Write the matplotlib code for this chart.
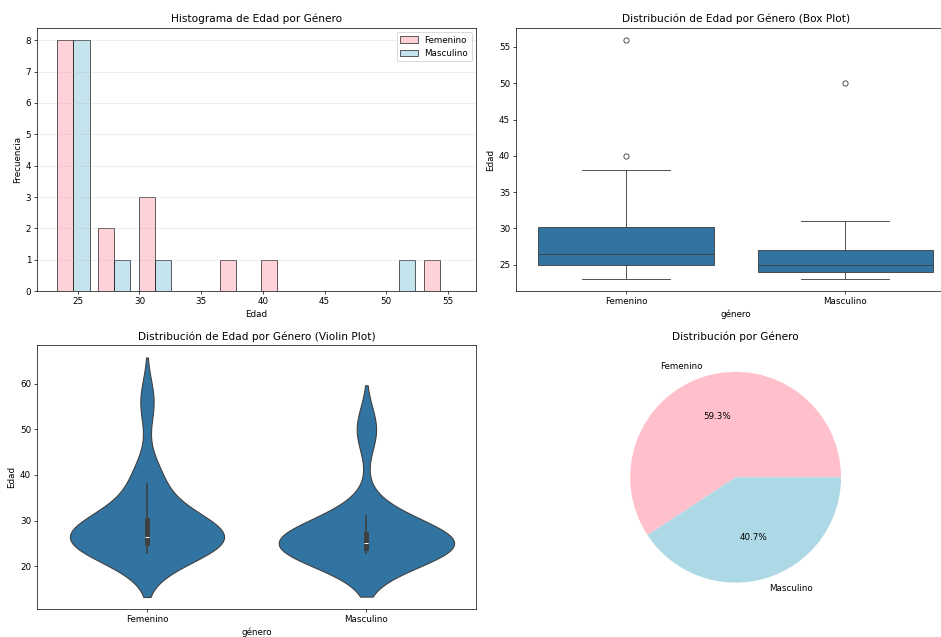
import matplotlib
matplotlib.use("Agg")
import matplotlib.pyplot as plt
import numpy as np
import pandas as pd
import seaborn as sns

# Ages per gender
edad_femenino = [23, 24, 25, 25, 25, 25, 26, 26, 27, 28, 30, 30, 31, 38, 40, 56]
edad_masculino = [23, 23, 24, 24, 25, 25, 25, 26, 28, 31, 50]
generos = ["Femenino", "Masculino"]
colores = ["pink", "lightblue"]

df = pd.DataFrame({
    "género": ["Femenino"] * len(edad_femenino) + ["Masculino"] * len(edad_masculino),
    "Edad": edad_femenino + edad_masculino,
})

DPI = 941 / 15
fig, axes = plt.subplots(2, 2, figsize=(15, 637 / DPI), dpi=DPI)
fig.subplots_adjust(left=0.0396, right=1.0149, top=0.9565, bottom=0.044,
                    wspace=0.0913, hspace=0.206)

# Histogram
ax = axes[0, 0]
ax.hist([edad_femenino, edad_masculino], bins=10, label=generos,
        color=colores, alpha=0.7, edgecolor="black")
ax.set_title("Histograma de Edad por Género")
ax.set_xlabel("Edad")
ax.set_ylabel("Frecuencia")
ax.legend()
ax.grid(axis="y", alpha=0.3)

# Box plot
ax = axes[0, 1]
sns.boxplot(x="género", y="Edad", data=df, ax=ax)
ax.set_title("Distribución de Edad por Género (Box Plot)")

# Violin plot
ax = axes[1, 0]
sns.violinplot(x="género", y="Edad", data=df, ax=ax)
ax.set_title("Distribución de Edad por Género (Violin Plot)")

# Pie chart
ax = axes[1, 1]
conteos = df["género"].value_counts()
ax.pie(conteos.values, labels=conteos.index, autopct="%1.1f%%", colors=colores)
ax.set_title("Distribución por Género")

fig.savefig("out.png", dpi=DPI)
